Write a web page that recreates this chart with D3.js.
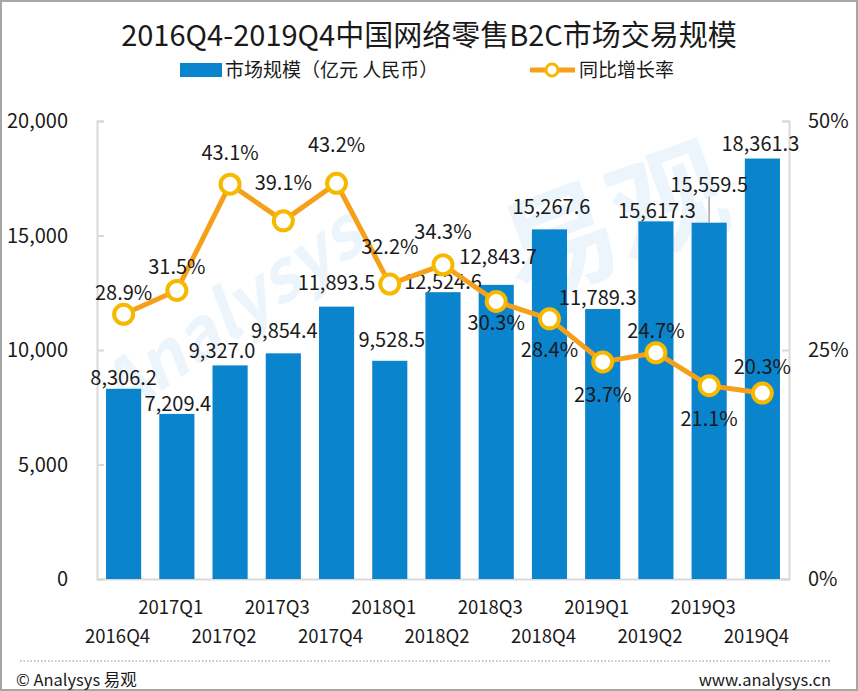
<!DOCTYPE html>
<html>
<head>
<meta charset="utf-8">
<script src="https://cdn.jsdelivr.net/npm/d3@7"></script>
<style>
  html, body { margin: 0; padding: 0; background: #fff; }
  svg { display: block; }
  svg text { font-family: "Noto Sans CJK SC", "Noto Sans", "DejaVu Sans", sans-serif; }
</style>
</head>
<body>
<div class="canvas"></div>
<script>
const quarters = ['2016Q4', '2017Q1', '2017Q2', '2017Q3', '2017Q4', '2018Q1', '2018Q2',
  '2018Q3', '2018Q4', '2019Q1', '2019Q2', '2019Q3', '2019Q4'];
const marketSize = [8306.2, 7209.4, 9327.0, 9854.4, 11893.5, 9528.5, 12524.6,
  12843.7, 15267.6, 11789.3, 15617.3, 15559.5, 18361.3];
const growthRate = [28.9, 31.5, 43.1, 39.1, 43.2, 32.2, 34.3, 30.3, 28.4, 23.7, 24.7, 21.1, 20.3];
const leftTicks = [0, 5000, 10000, 15000, 20000];
const rightTicks = [0, 25, 50];

// hand-placed label nudges, like the original chart
const barLabelLift = [11, 10, 14, 22, 24, 21, 10, 28, 22, 11, 10, 38, 15];
const barLabelDx = [0, 1, -8, 1, 0, 2, 0, 2, 2, -5, 1, 0, -2];
const rateLabelDy = [-21, -23, -31, -38, -38, -37, -33, 22, 31, 33, -22, 33, -26];

const width = 858;
const height = 691;
const plot = { left: 97, right: 789, top: 121, bottom: 579 };

const barColor = '#0a84cd';
const lineColor = '#f6a01a';
const markerColor = '#f7b800';
const axisColor = '#d9d9d9';

const svg = d3.select('.canvas')
  .append('svg')
  .attr('width', width)
  .attr('height', height);

svg.append('rect')
  .attr('x', 1).attr('y', 1)
  .attr('width', width - 2).attr('height', height - 2)
  .attr('fill', '#fff')
  .attr('stroke', '#a6a6a6')
  .attr('stroke-width', 2);

// faint watermark
const mark = svg.append('g')
  .attr('fill', '#edf5fc');
mark.append('text')
  .attr('transform', 'translate(120, 420) rotate(-35)')
  .attr('font-size', 70)
  .attr('font-style', 'italic')
  .attr('font-weight', 'bold')
  .text('Analysys');
mark.append('text')
  .attr('transform', 'translate(520, 300) rotate(-20)')
  .attr('font-size', 115)
  .attr('font-weight', 'bold')
  .text('易观');

const x = d3.scaleBand()
  .domain(quarters)
  .range([plot.left, plot.right])
  .paddingInner(0.34)
  .paddingOuter(0.17);

const yLeft = d3.scaleLinear().domain([0, 20000]).range([plot.bottom, plot.top]);
const yRight = d3.scaleLinear().domain([0, 50]).range([plot.bottom, plot.top]);

// title
svg.append('text')
  .attr('x', 429)
  .attr('y', 46)
  .attr('text-anchor', 'middle')
  .attr('font-size', 29)
  .attr('fill', '#1a1a1a')
  .text('2016Q4-2019Q4中国网络零售B2C市场交易规模');

// legend
const legend = svg.append('g').attr('font-size', 19).attr('fill', '#1a1a1a');
legend.append('rect')
  .attr('x', 180).attr('y', 63)
  .attr('width', 42).attr('height', 14)
  .attr('fill', barColor);
legend.append('text')
  .attr('x', 225).attr('y', 77)
  .text('市场规模（亿元 人民币）');
legend.append('line')
  .attr('x1', 530).attr('x2', 575)
  .attr('y1', 70).attr('y2', 70)
  .attr('stroke', lineColor)
  .attr('stroke-width', 5);
legend.append('circle')
  .attr('cx', 552).attr('cy', 70).attr('r', 6)
  .attr('fill', '#fff')
  .attr('stroke', markerColor)
  .attr('stroke-width', 3);
legend.append('text')
  .attr('x', 579).attr('y', 77)
  .text('同比增长率');

// axes
const leftAxis = svg.append('g')
  .attr('transform', `translate(${plot.left}, 0)`)
  .call(d3.axisRight(yLeft).tickValues(leftTicks).tickSize(7).tickFormat(''));
const rightAxis = svg.append('g')
  .attr('transform', `translate(${plot.right}, 0)`)
  .call(d3.axisLeft(yRight).tickValues(rightTicks).tickSize(7).tickFormat(''));
const bottomAxis = svg.append('g')
  .attr('transform', `translate(0, ${plot.bottom})`)
  .call(d3.axisBottom(x).tickSize(0).tickFormat(''));

[leftAxis, rightAxis, bottomAxis].forEach(g => {
  g.selectAll('path, line').attr('stroke', axisColor).attr('stroke-width', 2);
});

svg.append('g')
  .selectAll('text')
  .data(leftTicks)
  .join('text')
  .attr('x', 68)
  .attr('y', d => yLeft(d) + 7)
  .attr('text-anchor', 'end')
  .attr('font-size', 20)
  .attr('fill', '#1a1a1a')
  .text(d => d3.format(',')(d));

svg.append('g')
  .selectAll('text')
  .data(rightTicks)
  .join('text')
  .attr('x', 808)
  .attr('y', d => yRight(d) + 7)
  .attr('font-size', 20)
  .attr('fill', '#1a1a1a')
  .text(d => d + '%');

svg.append('g')
  .selectAll('text')
  .data(quarters)
  .join('text')
  .attr('x', d => x(d) + x.bandwidth() / 2 - 6)
  .attr('y', (d, i) => i % 2 ? 614 : 643)
  .attr('text-anchor', 'middle')
  .attr('font-size', 18.5)
  .attr('fill', '#1a1a1a')
  .text(d => d);

// bars
svg.append('g')
  .selectAll('rect')
  .data(marketSize)
  .join('rect')
  .attr('x', (d, i) => x(quarters[i]))
  .attr('y', d => yLeft(d))
  .attr('width', x.bandwidth())
  .attr('height', d => plot.bottom - yLeft(d))
  .attr('fill', barColor);

// leader line for the 2019Q3 label
const q3 = 11;
svg.append('line')
  .attr('x1', x(quarters[q3]) + x.bandwidth() / 2)
  .attr('x2', x(quarters[q3]) + x.bandwidth() / 2)
  .attr('y1', yLeft(marketSize[q3]) - barLabelLift[q3] + 12)
  .attr('y2', yLeft(marketSize[q3]))
  .attr('stroke', '#a6a6a6')
  .attr('stroke-width', 1.5);

svg.append('g')
  .selectAll('text')
  .data(marketSize)
  .join('text')
  .attr('x', (d, i) => x(quarters[i]) + x.bandwidth() / 2 + barLabelDx[i])
  .attr('y', (d, i) => yLeft(d) - barLabelLift[i] + 7)
  .attr('text-anchor', 'middle')
  .attr('font-size', 20)
  .attr('fill', '#1a1a1a')
  .text(d => d3.format(',.1f')(d));

// growth line
const line = d3.line()
  .x((d, i) => x(quarters[i]) + x.bandwidth() / 2)
  .y(d => yRight(d));

svg.append('path')
  .datum(growthRate)
  .attr('d', line)
  .attr('fill', 'none')
  .attr('stroke', lineColor)
  .attr('stroke-width', 5)
  .attr('stroke-linejoin', 'round');

svg.append('g')
  .selectAll('circle')
  .data(growthRate)
  .join('circle')
  .attr('cx', (d, i) => x(quarters[i]) + x.bandwidth() / 2)
  .attr('cy', d => yRight(d))
  .attr('r', 9.5)
  .attr('fill', '#fff')
  .attr('stroke', markerColor)
  .attr('stroke-width', 4);

svg.append('g')
  .selectAll('text')
  .data(growthRate)
  .join('text')
  .attr('x', (d, i) => x(quarters[i]) + x.bandwidth() / 2)
  .attr('y', (d, i) => yRight(d) + rateLabelDy[i] + 7)
  .attr('text-anchor', 'middle')
  .attr('font-size', 20)
  .attr('fill', '#1a1a1a')
  .text(d => d.toFixed(1) + '%');

// footer
svg.append('line')
  .attr('x1', 20).attr('x2', 832)
  .attr('y1', 661).attr('y2', 661)
  .attr('stroke', '#8c8c8c')
  .attr('stroke-width', 1.2)
  .attr('stroke-dasharray', '1.5 2');

svg.append('text')
  .attr('x', 16).attr('y', 686)
  .attr('font-size', 16.5)
  .attr('fill', '#1a1a1a')
  .text('© Analysys 易观');

svg.append('text')
  .attr('x', 831).attr('y', 686)
  .attr('text-anchor', 'end')
  .attr('font-size', 16.5)
  .attr('fill', '#1a1a1a')
  .text('www.analysys.cn');
</script>
</body>
</html>
